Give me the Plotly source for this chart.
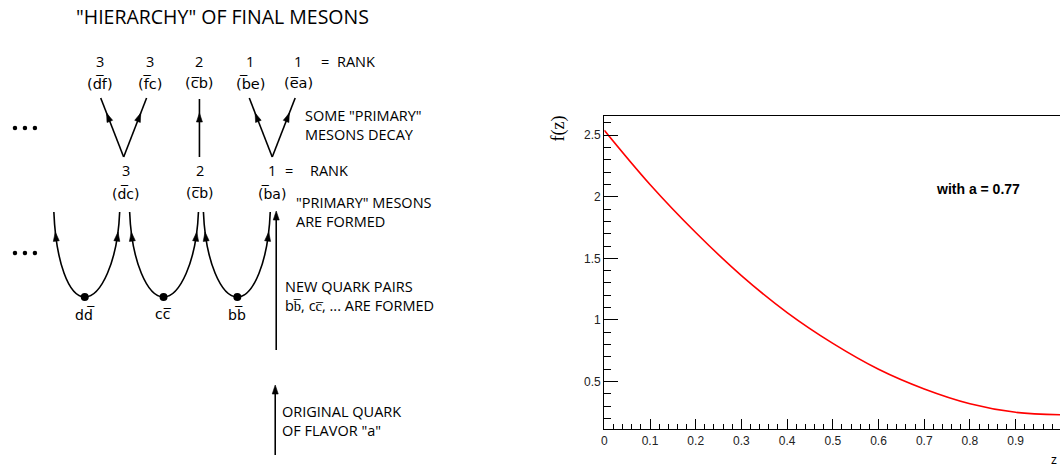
import numpy as np
import plotly.graph_objects as go

# ---------------- data ----------------
# fragmentation function f(z), sampled along z
z_vals = [0.0, 0.1, 0.2, 0.3, 0.4, 0.5, 0.6, 0.7, 0.8, 0.9, 1.0]
f_vals = [2.54, 2.10, 1.71, 1.36, 1.06, 0.81, 0.60, 0.44, 0.32, 0.25, 0.23]
param_text = "with a = 0.77"

# quark-jet cascade diagram labels
title_text = "\"HIERARCHY\" OF FINAL MESONS"
final_ranks = ["3", "3", "2", "1", "1"]
final_mesons = ["(d\u0305f)", "(f\u0305c)", "(c\u0305b)", "(b\u0305e)", "(e\u0305a)"]
primary_ranks = ["3", "2", "1"]
primary_mesons = ["(d\u0305c)", "(c\u0305b)", "(b\u0305a)"]
pair_labels = ["dd\u0305", "cc\u0305", "bb\u0305"]
notes = [
    ["SOME \"PRIMARY\"", "MESONS DECAY"],
    ["\"PRIMARY\" MESONS", "ARE FORMED"],
    ["NEW QUARK PAIRS", "bb\u0305, cc\u0305, ... ARE FORMED"],
    ["ORIGINAL QUARK", "OF FLAVOR \"a\""],
]

# ---------------- diagram geometry (pixel units, y downwards) ----------------
W, H = 1060, 466
INK = "black"
LW = 1.6
final_x = [97, 147, 197, 248, 296]
primary_x = [123, 198, 270]
pair_x = [82, 161, 235]
u_tops = [(51, 117), (127, 196), (201, 268)]
note_pos = [(301, 125), (292, 212), (281, 296), (278, 421)]

shapes = []
annotations = []


def arrowhead(tip, direction, length=9.0, width=6.0):
    d = np.asarray(direction, float)
    d = d / np.linalg.norm(d)
    n = np.array([-d[1], d[0]])
    tip = np.asarray(tip, float)
    base = tip - length * d
    a = base + n * width / 2
    b = base - n * width / 2
    shapes.append(dict(type="path", xref="x2", yref="y2",
                       path=f"M {tip[0]:.2f},{tip[1]:.2f} L {a[0]:.2f},{a[1]:.2f} "
                            f"L {b[0]:.2f},{b[1]:.2f} Z",
                       fillcolor=INK, line=dict(color=INK, width=0.6)))


def segment(x0, y0, x1, y1):
    shapes.append(dict(type="line", xref="x2", yref="y2", x0=x0, y0=y0, x1=x1, y1=y1,
                       line=dict(color=INK, width=LW)))


def arrow_on_segment(x0, y0, x1, y1, y_tip):
    # line from (x0, y0) to (x1, y1) with a head placed at height y_tip
    segment(x0, y0, x1, y1)
    t = (y_tip - y0) / (y1 - y0)
    arrowhead((x0 + t * (x1 - x0), y_tip), (x1 - x0, y1 - y0))


def cubic(p, t):
    p0, p1, p2, p3 = [np.asarray(q, float) for q in p]
    return ((1 - t) ** 3) * p0 + 3 * ((1 - t) ** 2) * t * p1 + 3 * (1 - t) * t * t * p2 + t ** 3 * p3


def text(x, y, s, size=14, anchor="center", family="Open Sans", **kw):
    annotations.append(dict(x=x, y=y, xref="x2", yref="y2", text=s, showarrow=False,
                            xanchor=anchor, yanchor="middle",
                            font=dict(family=family, size=size, color=INK), **kw))


# title
text(220, 16, title_text, size=19.5)

# rank row of the final mesons
for x, r in zip(final_x, final_ranks):
    text(x, 61, r, size=14.5)
text(323, 61, "=", size=14.5)
text(333, 61, "RANK", anchor="left", size=14.5)
for x, m in zip(final_x, final_mesons):
    text(x, 83, m, family="DejaVu Sans", size=14.5)

# decays of primary mesons (V shapes) and the undecayed one
for (xl, xv, xr) in [(98, 121, 144), (247, 270, 293)]:
    arrow_on_segment(xv, 157, xl, 98, 113)
    arrow_on_segment(xv, 157, xr, 98, 113)
arrow_on_segment(197, 157, 197, 99, 113)

# rank row of the primary mesons
for x, r in zip(primary_x, primary_ranks):
    text(x, 170, r, size=14.5)
text(287, 170, "=", size=14.5)
text(306, 170, "RANK", anchor="left", size=14.5)
for x, m in zip(primary_x, primary_mesons):
    text(x, 193, m, family="DejaVu Sans", size=14)

# quark-pair creation vertices (U shapes)
for (xl, xr), xc in zip(u_tops, pair_x):
    yb, yt = 297, 212
    left = [(xl, yt), (xl + 2, 262), (xc - 16, yb), (xc, yb)]
    right = [(xc, yb), (xc + 16, yb), (xr - 2, 262), (xr, yt)]
    shapes.append(dict(type="path", xref="x2", yref="y2",
                       path=f"M {left[0][0]},{left[0][1]} C {left[1][0]},{left[1][1]} "
                            f"{left[2][0]},{left[2][1]} {left[3][0]},{left[3][1]} "
                            f"C {right[1][0]},{right[1][1]} {right[2][0]},{right[2][1]} "
                            f"{right[3][0]},{right[3][1]}",
                       line=dict(color=INK, width=LW)))
    ts = np.linspace(0, 1, 400)
    for ctrl, sgn in [(left, -1), (right, 1)]:
        pts = np.array([cubic(ctrl, t) for t in ts])
        i = int(np.argmin(np.abs(pts[:, 1] - 232)))
        i = min(max(i, 1), len(ts) - 2)
        d = (pts[i + 1] - pts[i - 1]) * sgn
        arrowhead(pts[i], d)

for x, s in zip(pair_x, pair_labels):
    text(x, 314, s, family="DejaVu Sans", size=14)

# original quark line
segment(274, 350, 274, 214)
arrowhead((274, 211), (0, -1))
segment(273, 455, 273, 388)
arrowhead((273, 385), (0, -1))

# side notes, two lines each
for (x, yc), lines in zip(note_pos, notes):
    text(x, yc, "<br>".join(lines), size=14.5, anchor="left", align="left")

# parameter label on the function pad
annotations.append(dict(x=978, y=189, xref="x2", yref="y2", text="<b>" + param_text + "</b>",
                        showarrow=False, font=dict(family="Liberation Sans", size=14, color="black")))
# axis titles, placed at the pad ends
annotations.append(dict(x=557, y=128, xref="x2", yref="y2", text="f(z)", textangle=-90,
                        showarrow=False, font=dict(family="Liberation Serif", size=18, color="black")))
annotations.append(dict(x=1059, y=460, xref="x2", yref="y2", text="z", xanchor="right",
                        showarrow=False, font=dict(family="Liberation Sans", size=12, color="black")))

# ---------------- figure ----------------
fig = go.Figure()
fig.add_trace(go.Scatter(x=z_vals, y=f_vals, mode="lines", line=dict(color="red", width=1.6, shape="spline"),
                         xaxis="x", yaxis="y", hoverinfo="skip", showlegend=False))
# vertices where new quark pairs appear, plus the trailing ellipses
fig.add_trace(go.Scatter(x=pair_x, y=[297] * 3, mode="markers",
                         marker=dict(color=INK, size=8), xaxis="x2", yaxis="y2",
                         hoverinfo="skip", showlegend=False))
fig.add_trace(go.Scatter(x=[12, 22, 32, 12, 22, 32], y=[128, 128, 128, 253, 253, 253], mode="markers",
                         marker=dict(color=INK, size=4.5), xaxis="x2", yaxis="y2",
                         hoverinfo="skip", showlegend=False))

x0_px, y_top_px, y_bot_px = 603, 116, 429
fig.update_layout(
    width=W, height=H,
    margin=dict(l=0, r=0, t=0, b=0),
    paper_bgcolor="white", plot_bgcolor="rgba(0,0,0,0)",
    font=dict(family="Liberation Sans", color="black"),
    showlegend=False,
    xaxis=dict(domain=[x0_px / W, 1.0], range=[0, 0.997], anchor="y",
               showline=True, linecolor="black", linewidth=1.2, mirror=True,
               showgrid=False, zeroline=False,
               ticks="inside", ticklen=10, tickwidth=1.2, tickcolor="black",
               tick0=0, dtick=0.1,
               tickfont=dict(family="Liberation Sans", size=12, color="#222"),
               minor=dict(ticks="inside", ticklen=5, tickwidth=1, tickcolor="black", dtick=0.02, tick0=0)),
    yaxis=dict(domain=[1 - y_bot_px / H, 1 - y_top_px / H], range=[0.1145, 2.6555], anchor="x",
               showline=True, linecolor="black", linewidth=1.4,
               showgrid=False, zeroline=False,
               ticks="inside", ticklen=14, tickwidth=1.2, tickcolor="black",
               tick0=0, dtick=0.5,
               tickfont=dict(family="Liberation Sans", size=12, color="#222"),
               minor=dict(ticks="inside", ticklen=7, tickwidth=1, tickcolor="black", dtick=0.1, tick0=0)),
    xaxis2=dict(domain=[0, 1], range=[0, W], anchor="y2", visible=False, fixedrange=True),
    yaxis2=dict(domain=[0, 1], range=[H, 0], anchor="x2", visible=False, fixedrange=True),
    shapes=shapes,
    annotations=annotations,
)

fig.write_html("out.html")
